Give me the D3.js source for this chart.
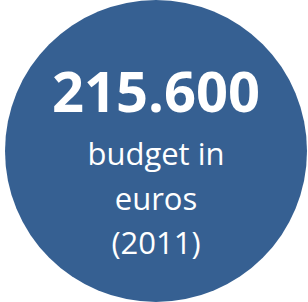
<!DOCTYPE html>
<html>
<head>
<meta charset="utf-8">
<script src="https://cdn.jsdelivr.net/npm/d3@7"></script>
<style>
  body { margin: 0; background: #ffffff; }
</style>
</head>
<body>
<div id="chart"></div>
<script>
// Values shown in the badge
const headline = ["215.600"];
const captionLines = ["budget in", "euros", "(2011)"];

const width = 308, height = 302;
const circleColor = "#366092";

const svg = d3.select("#chart").append("svg")
  .attr("width", width)
  .attr("height", height);

svg.append("circle")
  .attr("cx", 156)
  .attr("cy", 151)
  .attr("r", 151)
  .style("fill", circleColor);

svg.selectAll("text.headline")
  .data(headline)
  .enter().append("text")
  .attr("class", "headline")
  .attr("x", 156)
  .attr("y", 112)
  .attr("text-anchor", "middle")
  .style("font-family", "'Open Sans', sans-serif")
  .style("font-weight", "bold")
  .style("font-size", "56px")
  .style("fill", "#ffffff")
  .text(d => d);

// caption lines, one baseline per line
const lineY = d3.scalePoint()
  .domain(captionLines)
  .range([165, 254]);

svg.selectAll("text.caption")
  .data(captionLines)
  .enter().append("text")
  .attr("class", "caption")
  .attr("x", 156)
  .attr("y", d => lineY(d))
  .attr("text-anchor", "middle")
  .style("font-family", "'Open Sans', sans-serif")
  .style("font-size", "31px")
  .style("fill", "#ffffff")
  .text(d => d);
</script>
</body>
</html>
